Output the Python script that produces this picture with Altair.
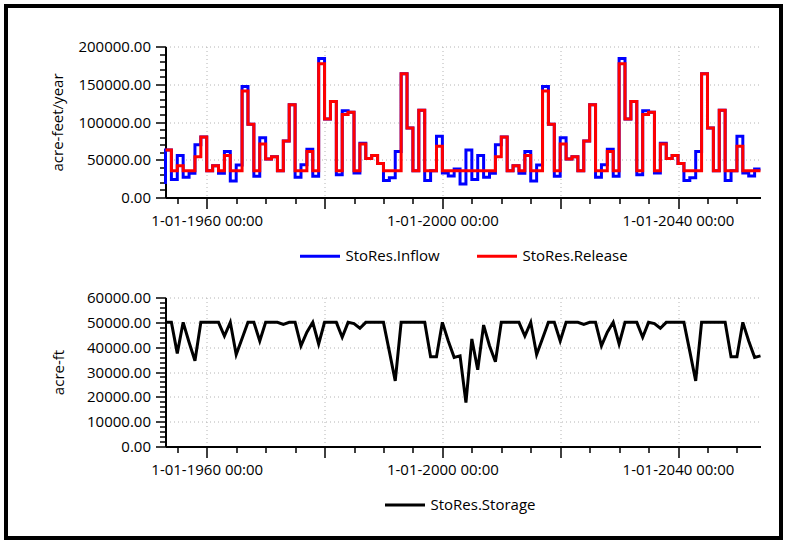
import altair as alt
import pandas as pd

years = list(range(1953, 2055))

inflow = [
    17800,
    63000, 24000, 55500, 26700, 32000, 70000, 80000, 35500, 42000, 32000,
    61000, 22000, 43000, 147000, 97000, 28000, 79000, 51000, 54000, 35500,
    75000, 123000, 26700, 43500, 64000, 28000, 184000, 104000, 127000, 30000,
    115000, 113000, 32500, 72000, 51500, 55500, 45000, 22500, 26000, 61000,
    164000, 92000, 35500, 115500, 22500, 35500, 81000, 32300, 28500, 37800,
    17800,
    63000, 24000, 55500, 26700, 32000, 70000, 80000, 35500, 42000, 32000,
    61000, 22000, 43000, 147000, 97000, 28000, 79000, 51000, 54000, 35500,
    75000, 123000, 26700, 43500, 64000, 28000, 184000, 104000, 127000, 30000,
    115000, 113000, 32500, 72000, 51500, 55500, 45000, 22500, 26000, 61000,
    164000, 92000, 35500, 115500, 22500, 35500, 81000, 32300, 28500, 37800,
]

release = [
    63000,
    63000, 35500, 42000, 35500, 35500, 54000, 80000, 35500, 42000, 35500,
    55500, 35500, 35500, 141000, 97000, 35500, 71000, 51000, 54000, 35500,
    75000, 123000, 35500, 35500, 61000, 35500, 177000, 104000, 127000, 35500,
    110000, 113000, 35500, 71000, 51500, 55500, 45000, 35500, 35500, 35500,
    164000, 92000, 35500, 115500, 35500, 35500, 68000, 35500, 35500, 35500,
    35500,
    35500, 35500, 35500, 35500, 35500, 54000, 80000, 35500, 42000, 35500,
    55500, 35500, 35500, 141000, 97000, 35500, 71000, 51000, 54000, 35500,
    75000, 123000, 35500, 35500, 61000, 35500, 177000, 104000, 127000, 35500,
    110000, 113000, 35500, 71000, 51500, 55500, 45000, 35500, 35500, 35500,
    164000, 92000, 35500, 115500, 35500, 35500, 68000, 35500, 35500, 35500,
]

storage = [
    50000, 50000, 37500, 50000, 42000, 34500, 50000, 50000, 50000, 50000,
    44500, 50000, 37000, 43500, 50000, 50000, 42500, 50000, 50000, 50000,
    49200, 50000, 50000, 40500, 46000, 50000, 41300, 50000, 50000, 50000,
    44000, 50000, 49500, 47600, 50000, 50000, 50000, 50000, 38300, 26400,
    50000, 50000, 50000, 50000, 50000, 36100, 36100, 50000, 42500, 35900,
    36500,
    17700, 43300, 30900, 48900, 40600, 34100, 50000, 50000, 50000, 50000,
    44500, 50000, 37000, 43500, 50000, 50000, 42500, 50000, 50000, 50000,
    49200, 50000, 50000, 40500, 46000, 50000, 41300, 50000, 50000, 50000,
    44000, 50000, 49500, 47600, 50000, 50000, 50000, 50000, 38300, 26400,
    50000, 50000, 50000, 50000, 50000, 36100, 36100, 50000, 42500, 35900,
    36500,
]

assert len(years) == len(inflow) == len(release) == len(storage)

dates = [f"{y}-01-01" for y in years]
flows = pd.DataFrame({
    "date": dates * 2,
    "value": inflow + release,
    "series": ["StoRes.Inflow"] * len(dates) + ["StoRes.Release"] * len(dates),
})
stor = pd.DataFrame({"date": dates, "value": storage,
                     "series": ["StoRes.Storage"] * len(dates)})

FONT = "Open Sans"
x_domain = [alt.DateTime(year=1953, month=1, date=1, utc=True),
            alt.DateTime(year=2054, month=1, date=1, utc=True)]
x_vals = [alt.DateTime(year=y, month=1, date=1, utc=True) for y in range(1955, 2051, 5)]


def x_axis():
    return alt.Axis(
        values=x_vals,
        labelExpr="utcyear(datum.value) % 40 == 0 ? '1-01-' + utcyear(datum.value) + ' 00:00' : ''",
        tickSize={"condition": {"test": "utcyear(datum.value) % 20 == 0", "value": 11}, "value": 6},
        gridOpacity={"condition": {"test": "utcyear(datum.value) % 20 == 0", "value": 1}, "value": 0},
        labelOverlap=False, labelFlush=False, labelPadding=5, title=None,
    )


def y_axis(title, step_major, vals, title_pad):
    return alt.Axis(
        values=vals,
        labelExpr=f"datum.value % {step_major} == 0 ? format(datum.value, '.2f') : ''",
        tickSize={"condition": {"test": f"datum.value % {step_major} == 0", "value": 10}, "value": 6},
        gridOpacity={"condition": {"test": f"datum.value % {step_major} == 0", "value": 1}, "value": 0},
        labelOverlap=False, labelFlush=False, labelPadding=5, title=title, titlePadding=title_pad,
    )


def legend(lx, ly):
    return alt.Legend(orient="none", legendX=lx, legendY=ly, direction="horizontal",
                      title=None, symbolType="stroke", symbolSize=1600, symbolStrokeWidth=3,
                      columnPadding=30, labelFontSize=15)


top_lines = alt.Chart(flows).mark_line(interpolate="step-before", strokeWidth=3).encode(
    x=alt.X("date:T", scale=alt.Scale(type="utc", domain=x_domain, nice=False), axis=x_axis()),
    y=alt.Y("value:Q", scale=alt.Scale(domain=[0, 200000], nice=False),
            axis=y_axis("acre-feet/year", 50000, list(range(0, 200001, 10000)), 12)),
    color=alt.Color("series:N", scale=alt.Scale(domain=["StoRes.Inflow", "StoRes.Release"],
                                                 range=["#0000ff", "#ff0000"]),
                    legend=legend(133, 188)),
)

frame = alt.Chart(alt.Data(values=[{"f": 1}])).mark_rect(
    fill=None, stroke="black", strokeWidth=4).encode(
    x=alt.value(-159.5), x2=alt.value(615.5), y=alt.value(-40.5), y2=alt.value(491.5))

top = alt.layer(top_lines, frame).properties(width=595, height=151)

bottom = alt.Chart(stor).mark_line(strokeWidth=3).encode(
    x=alt.X("date:T", scale=alt.Scale(type="utc", domain=x_domain, nice=False), axis=x_axis()),
    y=alt.Y("value:Q", scale=alt.Scale(domain=[0, 60000], nice=False),
            axis=y_axis("acre-ft", 10000, list(range(0, 60001, 2000)), 20)),
    color=alt.Color("series:N", scale=alt.Scale(domain=["StoRes.Storage"], range=["#000000"]),
                    legend=legend(218, 186)),
).properties(width=595, height=149)

chart = alt.vconcat(top, bottom, spacing=100, bounds="flush").resolve_scale(
    x="independent", y="independent", color="independent"
).properties(
    padding={"left": 3.5, "top": 3.5, "right": 2, "bottom": 2}
).configure(font=FONT).configure_view(stroke=None).configure_axis(
    labelFont=FONT, labelFontSize=15, labelColor="#000000",
    titleFont=FONT, titleFontSize=15, titleFontWeight="normal", titleColor="#000000",
    domainColor="#000000", domainWidth=2, tickColor="#000000", tickWidth=1.5,
    gridColor="#b4b4b4", gridDash=[1, 3], gridWidth=1,
).configure_legend(labelFont=FONT, labelColor="#000000")

chart.save("out.html", embed_options={"renderer": "svg", "actions": False})
